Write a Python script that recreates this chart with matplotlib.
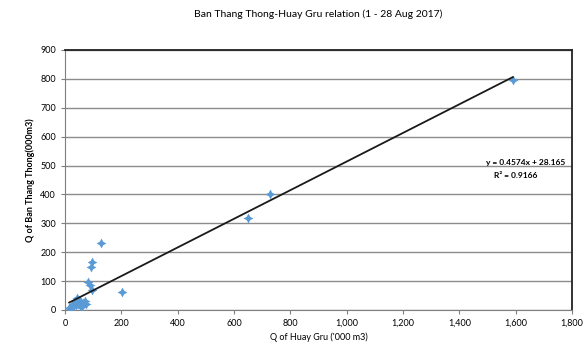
import matplotlib.pyplot as plt
import matplotlib.ticker as mticker
import numpy as np

# daily discharge, 1 - 28 Aug 2017 ('000 m3)
huay_gru = [1590, 728, 650, 128, 95, 91, 83, 89, 95, 203,
            20, 25, 30, 35, 40, 45, 50, 55, 60, 65, 70, 28, 38, 48, 58, 15, 75, 42]
ban_thang = [796, 401, 318, 233, 167, 150, 98, 87, 70, 63,
             10, 15, 20, 25, 18, 22, 28, 20, 15, 25, 30, 12, 30, 35, 12, 8, 20, 40]

eq_text = 'y = 0.4574x + 28.165'
r2_text = 'R² = 0.9166'

plt.rcParams['font.family'] = ['Lato', 'DejaVu Sans']

fig = plt.figure(figsize=(5.87, 3.54), dpi=100)
ax = fig.add_axes([0.1107, 0.1243, 0.8637, 0.7345])

ax.scatter(huay_gru, ban_thang, marker=(4, 1, 0), s=50, color='#5b9bd5', zorder=3, linewidths=0)

# linear trendline over the data range
k, b = np.polyfit(huay_gru, ban_thang, 1)
xs = np.array([min(huay_gru), max(huay_gru)])
ax.plot(xs, k * xs + b, color='#1a1a1a', lw=1.3, zorder=4)

ax.text(1775, 512, eq_text, ha='right', va='center', fontsize=6, fontweight='bold')
ax.text(1676, 464, r2_text, ha='right', va='center', fontsize=6, fontweight='bold')

ax.set_xlim(0, 1800)
ax.set_ylim(0, 900)
ax.set_xticks(range(0, 1801, 200))
ax.set_yticks(range(0, 901, 100))
ax.xaxis.set_major_formatter(mticker.FuncFormatter(lambda v, p: f'{int(v):,}'))
ax.grid(axis='y', color='#8c8c8c', lw=1)
ax.set_axisbelow(True)
ax.tick_params(direction='out', length=3, labelsize=6.5, color='#7f7f7f')
for side in ['left', 'bottom']:
    ax.spines[side].set_color('#7f7f7f')
for side in ['top', 'right']:
    ax.spines[side].set_color('#222222')
    ax.spines[side].set_linewidth(1.3)

ax.set_title('Ban Thang Thong-Huay Gru relation (1 - 28 Aug 2017)', fontsize=7.5, pad=24)
ax.set_xlabel("Q of Huay Gru ('000 m3)", fontsize=6.5, labelpad=3)
ax.set_ylabel('Q of Ban Thang Thong(000m3)', fontsize=6.5, fontweight='bold', labelpad=4)

fig.savefig('out.png', dpi=100)
